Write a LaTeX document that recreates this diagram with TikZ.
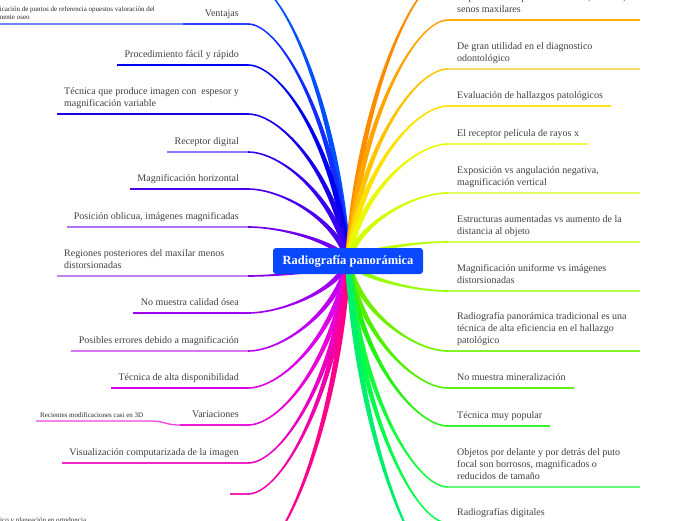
\documentclass[tikz,border=0pt]{standalone}
\usepackage{fontspec}
\setmainfont{Liberation Serif}
\usetikzlibrary{calc}
\definecolor{ink}{RGB}{64, 64, 64}
\definecolor{royal}{RGB}{10, 72, 255}
% left side, blue to pink
\definecolor{azure}{RGB}{0, 80, 255}
\definecolor{cobalt}{RGB}{20, 45, 255}
\definecolor{ultramarine}{RGB}{0, 0, 240}
\definecolor{indigo}{RGB}{25, 0, 230}
\definecolor{iris}{RGB}{55, 0, 240}
\definecolor{violet}{RGB}{75, 0, 235}
\definecolor{amethyst}{RGB}{110, 0, 240}
\definecolor{wisteria}{RGB}{135, 0, 235}
\definecolor{purple}{RGB}{160, 0, 240}
\definecolor{orchid}{RGB}{190, 0, 240}
\definecolor{magenta}{RGB}{220, 0, 235}
\definecolor{fuchsia}{RGB}{235, 0, 215}
\definecolor{cerise}{RGB}{235, 0, 195}
\definecolor{rose}{RGB}{240, 0, 170}
\definecolor{ruby}{RGB}{255, 0, 140}
% right side, orange to green
\definecolor{carrot}{RGB}{255, 140, 0}
\definecolor{orange}{RGB}{255, 165, 0}
\definecolor{amber}{RGB}{255, 195, 0}
\definecolor{sunflower}{RGB}{255, 225, 0}
\definecolor{lemon}{RGB}{235, 250, 0}
\definecolor{chartreuse}{RGB}{210, 255, 0}
\definecolor{lime}{RGB}{185, 255, 0}
\definecolor{spring}{RGB}{150, 255, 0}
\definecolor{grass}{RGB}{110, 240, 0}
\definecolor{leaf}{RGB}{80, 240, 0}
\definecolor{clover}{RGB}{40, 240, 20}
\definecolor{emerald}{RGB}{20, 250, 60}
\definecolor{jade}{RGB}{0, 255, 70}
\definecolor{mint}{RGB}{0, 240, 110}

% tapered branch: colour, root, tip
\newcommand{\twig}[3]{%
  \fill[#1] let \p1=(#2), \p2=(#3),
      \p3=({\x1+0.1*(\x2-\x1)},{\y1+0.55*(\y2-\y1)}),
      \p4=({\x2-0.35*(\x2-\x1)},{\y2}),
      \n1={veclen(\x3-\x1,\y3-\y1)},
      \n2={0.8*(\x2-\x1)/abs(\x2-\x1)},
      \p5=({-(\y3-\y1)/\n1*3pt},{(\x3-\x1)/\n1*3pt})
    in ({\x1+\x5},{\y1+\y5}) .. controls ({\x3+\x5},{\y3+\y5}) and ({\x4},{\y4+\n2*1pt}) .. ({\x2},{\y2+\n2*1pt})
       -- ({\x2},{\y2-\n2*1pt}) .. controls ({\x4},{\y4-\n2*1pt}) and ({\x3-\x5},{\y3-\y5}) .. ({\x1-\x5},{\y1-\y5}) -- cycle;}

\begin{document}
\begin{tikzpicture}[x=1pt, y=-1pt,
    topic/.style={font=\fontsize{10}{12}\selectfont, text=ink, inner sep=0pt, align=left},
    subtopic/.style={font=\fontsize{7}{7.6}\selectfont, text=ink!60!black, inner sep=0pt, align=left},
    rule/.style={line width=1.3pt}]
  \useasboundingbox (0,0) rectangle (696,520);
  \clip (0,0) rectangle (696,520);
  \coordinate (hub) at (348,261);

  % left branches
  \coordinate (offtop)         at (248,-20);
  \coordinate (ventajas)       at (248, 24);
  \coordinate (procedimiento)  at (248, 65);
  \coordinate (espesor)        at (248,114);
  \coordinate (receptor)       at (248,152);
  \coordinate (horizontal)     at (248,189);
  \coordinate (oblicua)        at (248,227);
  \coordinate (regiones)       at (248,276);
  \coordinate (calidad)        at (248,313);
  \coordinate (errores)        at (248,351);
  \coordinate (disponible)     at (248,388);
  \coordinate (variaciones)    at (248,425);
  \coordinate (visualizacion)  at (248,463);
  \coordinate (vacio)          at (248,494);
  \coordinate (offbottom)      at (248,560);

  \twig{azure}      {hub}{offtop}
  \twig{cobalt}     {hub}{ventajas}
  \twig{ultramarine}{hub}{procedimiento}
  \twig{indigo}     {hub}{espesor}
  \twig{iris}       {hub}{receptor}
  \twig{violet}     {hub}{horizontal}
  \twig{amethyst}   {hub}{oblicua}
  \twig{wisteria}   {hub}{regiones}
  \twig{purple}     {hub}{calidad}
  \twig{orchid}     {hub}{errores}
  \twig{magenta}    {hub}{disponible}
  \twig{fuchsia}    {hub}{variaciones}
  \twig{cerise}     {hub}{visualizacion}
  \twig{rose}       {hub}{vacio}
  \twig{ruby}       {hub}{offbottom}

  \draw[rule, cobalt!90!white]      (ventajas)      -- ++(-65,0) coordinate (ventajas-l);
  \draw[rule, cobalt!60!white]      (ventajas-l)    -- ++(-183,0);
  \draw[rule, ultramarine]          (procedimiento) -- ++(-131,0);
  \draw[rule, indigo]               (espesor)       -- ++(-191,0);
  \draw[rule, iris!55!white]        (receptor)      -- ++(-81,0);
  \draw[rule, violet]               (horizontal)    -- ++(-118,0);
  \draw[rule, amethyst!55!white]    (oblicua)       -- ++(-181,0);
  \draw[rule, wisteria!50!white]    (regiones)      -- ++(-191,0);
  \draw[rule, purple]               (calidad)       -- ++(-115,0);
  \draw[rule, orchid!55!white]      (errores)       -- ++(-177,0);
  \draw[rule, magenta]              (disponible)    -- ++(-137,0);
  \draw[rule, fuchsia!90!white]     (variaciones)   -- ++(-68,0) coordinate (variaciones-l);
  \coordinate (recientes) at (150,421);
  \draw[rule, fuchsia!75!white]     (variaciones-l) .. controls (165,425) and (165,421) .. (recientes) -- ++(-114,0);
  \draw[rule, cerise!85!white]      (visualizacion) -- ++(-186,0);
  \draw[rule, rose!85!white]        (vacio)         -- ++(-18,0);

  \node[topic, anchor=base east] (ventajas-t)      at (239, 16) {Ventajas};
  \node[subtopic, anchor=base east] (referencia-t) at (155, 19) {icación de puntos de referencia opuestos valoración del\\nente oseo};
  \node[topic, anchor=base east] (procedimiento-t) at (239, 57) {Procedimiento fácil y rápido};
  \node[topic, anchor=base west] (espesor-t)       at (64,106)  {Técnica que produce imagen con\ \ espesor y\\magnificación variable};
  \node[topic, anchor=base east] (receptor-t)      at (239,144) {Receptor digital};
  \node[topic, anchor=base east] (horizontal-t)    at (239,181) {Magnificación horizontal};
  \node[topic, anchor=base east] (oblicua-t)       at (239,219) {Posición oblicua, imágenes magnificadas};
  \node[topic, anchor=base west] (regiones-t)      at (64,268)  {Regiones posteriores del maxilar menos\\distorsionadas};
  \node[topic, anchor=base east] (calidad-t)       at (239,305) {No muestra calidad ósea};
  \node[topic, anchor=base east] (errores-t)       at (239,343) {Posibles errores debido a magnificación};
  \node[topic, anchor=base east] (disponible-t)    at (239,380) {Técnica de alta disponibilidad};
  \node[topic, anchor=base east] (variaciones-t)   at (239,417) {Variaciones};
  \node[subtopic, anchor=base west] (recientes-t)  at (40,417)  {Recientes modificaciones casi en 3D};
  \node[topic, anchor=base east] (visualizacion-t) at (239,455) {Visualización computarizada de la imagen};
  \node[subtopic, anchor=base west] (ortodoncia-t) at (0,522)   {ico y planeación en ortodoncia};

  % right branches
  \coordinate (offtop-r)       at (448,-25);
  \coordinate (representa)     at (448, 20);
  \coordinate (utilidad)       at (448, 69);
  \coordinate (evaluacion)     at (448,106);
  \coordinate (pelicula)       at (448,144);
  \coordinate (exposicion)     at (448,193);
  \coordinate (estructuras)    at (448,242);
  \coordinate (uniforme)       at (448,291);
  \coordinate (tradicional)    at (448,351);
  \coordinate (mineral)        at (448,388);
  \coordinate (popular)        at (448,426);
  \coordinate (objetos)        at (448,487);
  \coordinate (digitales)      at (448,523);
  \coordinate (offbottom-r)    at (448,575);

  \twig{carrot}     {hub}{offtop-r}
  \twig{orange}     {hub}{representa}
  \twig{amber}      {hub}{utilidad}
  \twig{sunflower}  {hub}{evaluacion}
  \twig{lemon}      {hub}{pelicula}
  \twig{chartreuse} {hub}{exposicion}
  \twig{lime}       {hub}{estructuras}
  \twig{spring}     {hub}{uniforme}
  \twig{grass}      {hub}{tradicional}
  \twig{leaf}       {hub}{mineral}
  \twig{clover}     {hub}{popular}
  \twig{emerald}    {hub}{objetos}
  \twig{jade}       {hub}{digitales}
  \twig{mint}       {hub}{offbottom-r}

  \draw[rule, orange!85!yellow]     (representa)  -- ++(192,0);
  \draw[rule, amber!60!white]       (utilidad)    -- ++(192,0);
  \draw[rule, sunflower!90!white]   (evaluacion)  -- ++(163,0);
  \draw[rule, lemon!70!white]       (pelicula)    -- ++(140,0);
  \draw[rule, chartreuse!60!white]  (exposicion)  -- ++(192,0);
  \draw[rule, lime!65!white]        (estructuras) -- ++(192,0);
  \draw[rule, spring!70!white]      (uniforme)    -- ++(192,0);
  \draw[rule, grass!85!white]       (tradicional) -- ++(192,0);
  \draw[rule, leaf!90!white]        (mineral)     -- ++(126,0);
  \draw[rule, clover!90!white]      (popular)     -- ++(102,0);
  \draw[rule, emerald!65!white]     (objetos)     -- ++(192,0);
  \draw[rule, jade!80!white]        (digitales)   -- ++(192,0);

  \node[topic, anchor=base west] (representa-t)  at (457, 12) {Representa cuerpo de mandíbula, maxilar,\\senos maxilares};
  \node[topic, anchor=base west] (utilidad-t)    at (457, 61) {De gran utilidad en el diagnostico\\odontológico};
  \node[topic, anchor=base west] (evaluacion-t)  at (457, 98) {Evaluación de hallazgos patológicos};
  \node[topic, anchor=base west] (pelicula-t)    at (457,136) {El receptor película de rayos x};
  \node[topic, anchor=base west] (exposicion-t)  at (457,185) {Exposición vs angulación negativa,\\magnificación vertical};
  \node[topic, anchor=base west] (estructuras-t) at (457,234) {Estructuras aumentadas vs aumento de la\\distancia al objeto};
  \node[topic, anchor=base west] (uniforme-t)    at (457,283) {Magnificación uniforme vs imágenes\\distorsionadas};
  \node[topic, anchor=base west] (tradicional-t) at (457,343) {Radiografía panorámica tradicional es una\\técnica de alta eficiencia en el hallazgo\\patológico};
  \node[topic, anchor=base west] (mineral-t)     at (457,380) {No muestra mineralización};
  \node[topic, anchor=base west] (popular-t)     at (457,418) {Técnica muy popular};
  \node[topic, anchor=base west] (objetos-t)     at (457,479) {Objetos por delante y por detrás del puto\\focal son borrosos, magnificados o\\reducidos de tamaño};
  \node[topic, anchor=base west] (digitales-t)   at (457,515) {Radiografías digitales};

  % central topic
  \node[fill=royal, rounded corners=3pt, minimum width=150pt, minimum height=26pt, inner sep=0pt,
        text=white, font=\fontsize{12.5}{14}\selectfont\bfseries] (hub-t) at (hub) {Radiografía panorámica};
\end{tikzpicture}
\end{document}
